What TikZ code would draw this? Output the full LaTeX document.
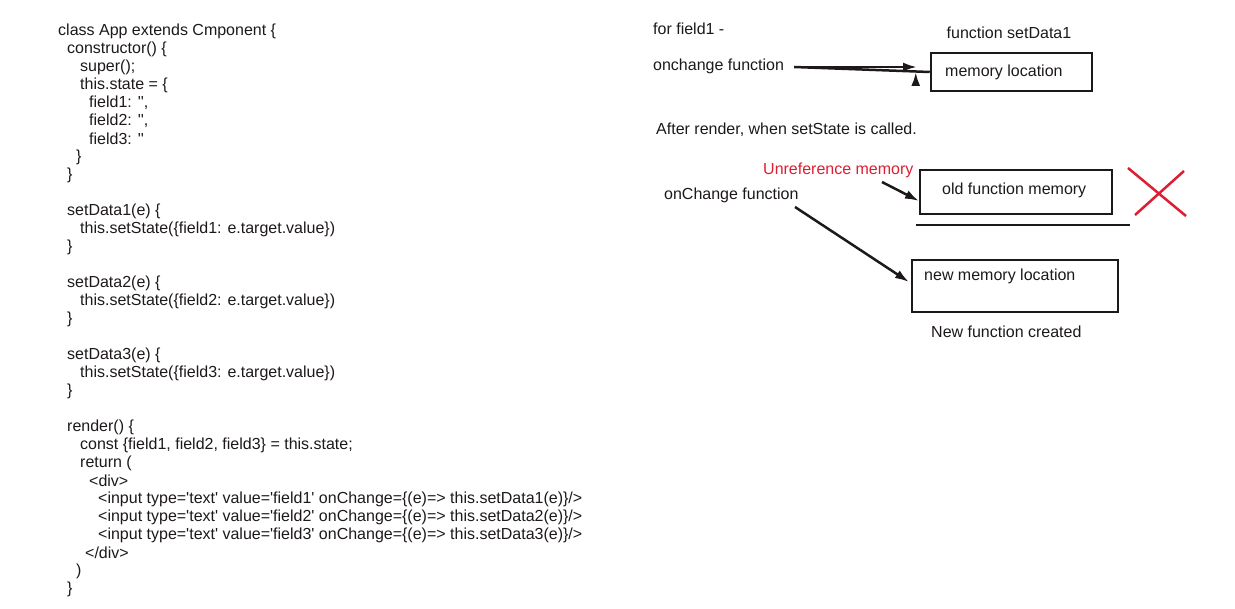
\documentclass[tikz,border=0pt]{standalone}
\usepackage{fontspec}
\setmainfont{Liberation Sans}[Ligatures=TeXOff]
\usetikzlibrary{arrows.meta}
\definecolor{unref}{RGB}{220,30,50}
\definecolor{ink}{RGB}{30,25,25}
\tikzset{
    txt/.style={anchor=west, inner sep=0pt, font=\fontsize{16}{18}\selectfont, text=ink},
    mbox/.style={draw=ink, line width=2.5pt},
    ptr/.style={draw=ink, line width=2.5pt, -{Latex[length=14pt,width=9pt]}}
}
\begin{document}
\begin{tikzpicture}[x=1pt,y=-1pt]
    \useasboundingbox (0,0) rectangle (1235,609);

    % source code
    \foreach \x/\t [count=\i from 0] in {
        58/{class App extends Cmponent \{}, 67/{constructor() \{}, 80/{super();},
        80/{this.state = \{}, 89/{field1: '',}, 89/{field2: '',}, 89/{field3: ''},
        76/{\}}, 67/{\}}, 67/{}, 67/{setData1(e) \{}, 80/{this.setState(\{field1: e.target.value\})},
        67/{\}}, 67/{}, 67/{setData2(e) \{}, 80/{this.setState(\{field2: e.target.value\})},
        67/{\}}, 67/{}, 67/{setData3(e) \{}, 80/{this.setState(\{field3: e.target.value\})},
        67/{\}}, 67/{}, 67/{render() \{}, 80/{const \{field1, field2, field3\} = this.state;},
        80/{return (}, 89/{<div>},
        98/{<input type='text' value='field1' onChange=\{(e)=> this.setData1(e)\}/>},
        98/{<input type='text' value='field2' onChange=\{(e)=> this.setData2(e)\}/>},
        98/{<input type='text' value='field3' onChange=\{(e)=> this.setData3(e)\}/>},
        85/{</div>}, 76/{)}, 67/{\}}} {
            \node[txt] (code\i) at (\x,31+18*\i) {\t};
        }

    % first diagram
    \node[txt] (for) at (653,29) {for field1 -};
    \node[txt] (onch) at (653,66) {onchange function};
    \node[txt, anchor=center] (fn) at (1009,33) {function setData1};
    \node[mbox, minimum width=161pt, minimum height=38pt] (mem) at (1011.5,72) {};
    \node[txt] (memt) at (945,72) {memory location};
    \draw[ptr] (onch.east) ++(10,1) coordinate (a1) (a1) -- (mem.west) ++(-14,0);
    \coordinate (a1e) at (917,67);
    \draw[ptr] (a1) -- (a1e);

    \node[txt] (after) at (656,130) {After render, when setState is called.};

    % second diagram
    \node[txt, text=unref] (unref) at (763,170) {Unreference memory};
    \node[mbox, minimum width=192pt, minimum height=44pt] (old) at (1016,192) {};
    \node[txt] (oldt) at (942,190) {old function memory};
    \coordinate (u1) at (882,182);
    \coordinate (u2) at (919,201);
    \draw[ptr] (u1) -- (u2);
    \coordinate (l1) at (916,225);
    \coordinate (l2) at (1130,225);
    \draw[ink, line width=2.5pt] (l1) -- (l2);
    \coordinate (x1) at (1128,168);
    \coordinate (x2) at (1186,216);
    \coordinate (x3) at (1184,171);
    \coordinate (x4) at (1135,215);
    \draw[unref, line width=2.5pt] (x1) -- (x2) (x3) -- (x4);

    \node[txt] (onch2) at (664,195) {onChange function};
    \node[mbox, minimum width=206pt, minimum height=52pt] (new) at (1015,286) {};
    \node[txt] (newt) at (924,276) {new memory location};
    \coordinate (n1) at (795,207);
    \coordinate (n2) at (909,282);
    \draw[ptr] (n1) -- (n2);
    \node[txt] (created) at (931,332) {New function created};
\end{tikzpicture}
\end{document}
